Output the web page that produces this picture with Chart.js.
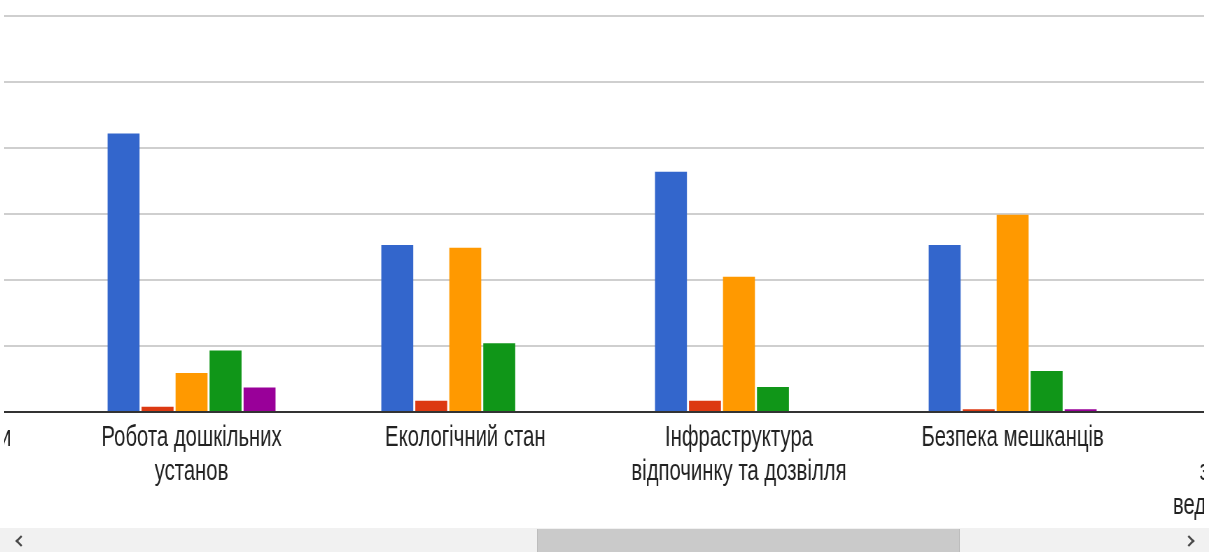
<!DOCTYPE html>
<html lang="uk">

<head>
	<title>chart</title>
	<meta charset="utf-8">
	<style>
		html, body { margin: 0; padding: 0; background: #fff; overflow: hidden; }
		/* visible window of the scrolled chart */
		#wrap { position: absolute; left: 4px; top: 0; width: 1200px; height: 528px; overflow: hidden; }
		/* the picture is squeezed horizontally, so draw wide and scale down */
		#inner { position: absolute; left: -222.9px; top: 0; transform: scaleX(0.7); transform-origin: 0 0; }
		#scroll { position: absolute; left: 0; top: 528px; width: 1209px; height: 24px; background: #f1f1f1; }
		#thumb { position: absolute; left: 537px; top: 1px; width: 423px; height: 23px; background: #cacaca; border-left: 1px solid #bdbdbd; border-right: 1px solid #bdbdbd; box-sizing: border-box; }
		.arr { position: absolute; top: 9px; width: 6px; height: 6px; border-left: 2px solid #4a4a4a; border-bottom: 2px solid #4a4a4a; }
		#left { left: 17px; transform: rotate(45deg); }
		#right { left: 1185px; transform: rotate(-135deg); }
	</style>
</head>

<body>

	<div id="wrap">
		<div id="inner">
			<canvas id="myChart" width="2346" height="552"></canvas>
		</div>
	</div>

	<!-- полоса прокрутки -->
	<div id="scroll">
		<div class="arr" id="left"></div>
		<div id="thumb"></div>
		<div class="arr" id="right"></div>
	</div>

	<script src="https://cdn.jsdelivr.net/npm/chart.js@4.4.0/dist/chart.umd.min.js"></script>
	<script>
		// категорії (крайні видно лише частково)
		var categories = [
			"Комунальні послуги",
			["Робота дошкільних", "установ"],
			"Екологічний стан",
			["Інфраструктура", "відпочинку та дозвілля"],
			"Безпека мешканців",
			["Можливості для", "започаткування та", "ведення власної справи"]
		];

		// значення серій
		var blueValues   = [null, 42.2, 25.3, 36.4, 25.3, null];
		var redValues    = [null, 0.8, 1.7, 1.7, 0.4, null];
		var orangeValues = [null, 5.9, 24.9, 20.5, 29.9, null];
		var greenValues  = [null, 9.3, 10.4, 3.8, 6.2, null];
		var purpleValues = [null, 3.7, 0, 0, 0.4, null];

		// лінії сітки
		var gridMax = 60;
		var gridStep = 10;

		var ctx = document.getElementById('myChart').getContext('2d');
		var chart = new Chart(ctx, {
			type: 'bar',
			data: {
				labels: categories,
				datasets: [
					{ label: "1", data: blueValues, backgroundColor: '#3366cc' },
					{ label: "2", data: redValues, backgroundColor: '#dc3912' },
					{ label: "3", data: orangeValues, backgroundColor: '#ff9900' },
					{ label: "4", data: greenValues, backgroundColor: '#109618' },
					{ label: "5", data: purpleValues, backgroundColor: '#990099' }
				]
			},
			options: {
				responsive: false,
				animation: false,
				devicePixelRatio: 1,
				categoryPercentage: 0.621,
				barPercentage: 0.94,
				layout: { padding: { top: 16, left: 0, right: 0, bottom: 0 } },
				plugins: {
					legend: { display: false },
					tooltip: { enabled: false }
				},
				scales: {
					x: {
						offset: true,
						grid: { display: false, drawTicks: false },
						border: { display: false },
						ticks: {
							autoSkip: false,
							maxRotation: 0,
							minRotation: 0,
							padding: 9,
							color: '#222',
							font: { family: "'Liberation Sans', Arial, sans-serif", size: 29, lineHeight: '34px' }
						},
						afterFit: function (scale) { scale.height = 140; }
					},
					y: {
						min: 0,
						max: gridMax,
						ticks: { display: false, stepSize: gridStep },
						border: { display: false },
						grid: {
							drawTicks: false,
							lineWidth: 2,
							color: function (c) { return c.tick && c.tick.value === 0 ? '#333' : '#cfcfcf'; }
						}
					}
				}
			}
		});
	</script>

</body>

</html>
